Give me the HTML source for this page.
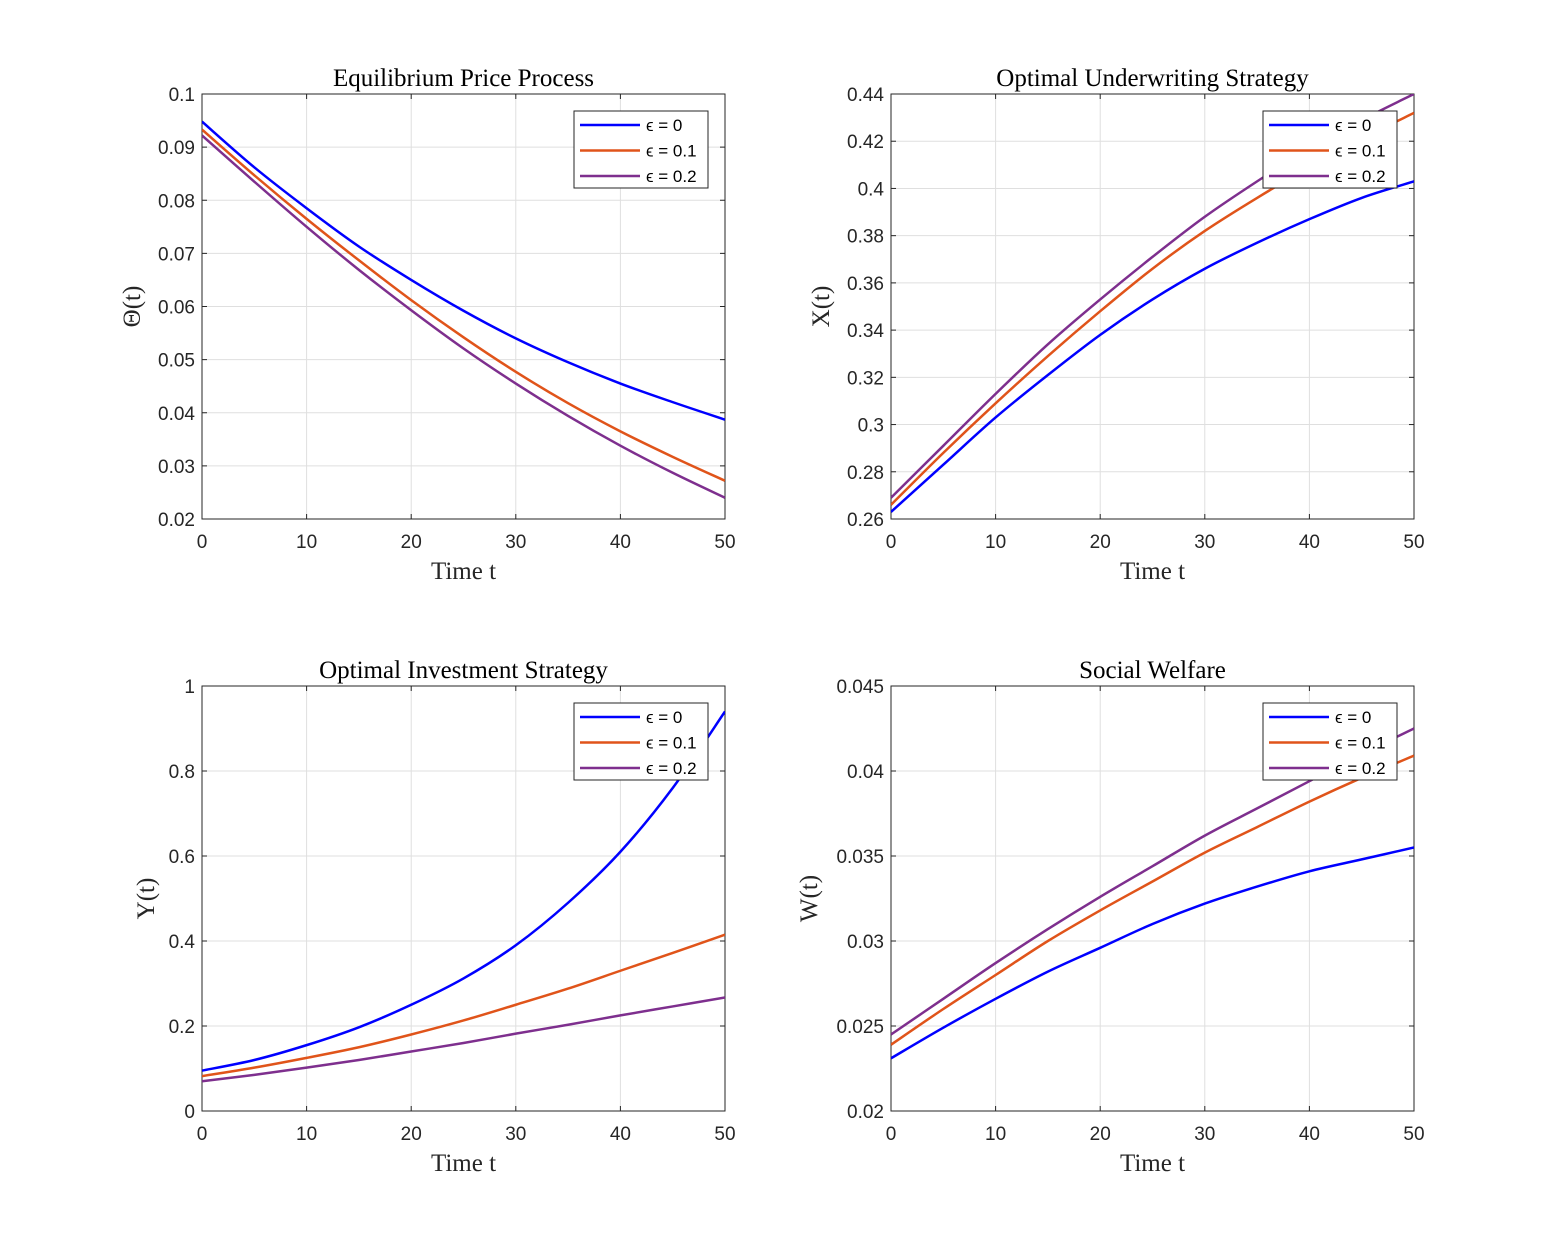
<!DOCTYPE html>
<html><head><meta charset="utf-8"><style>
html,body{margin:0;padding:0;background:#fff;}
</style></head><body>
<svg id="fig" width="1563" height="1250" xmlns="http://www.w3.org/2000/svg"></svg>
<script>
const times=[0,5,10,15,20,25,30,35,40,45,50];
const seriesLabels=["\u03f5 = 0","\u03f5 = 0.1","\u03f5 = 0.2"];
const priceE0=[0.0948,0.0862,0.0785,0.0713,0.065,0.0592,0.054,0.0495,0.0455,0.042,0.0387];
const priceE1=[0.0933,0.0847,0.0765,0.0687,0.0612,0.0542,0.0477,0.0418,0.0365,0.0317,0.0272];
const priceE2=[0.0922,0.0835,0.075,0.0669,0.0593,0.0521,0.0455,0.0394,0.0338,0.0287,0.024];
const underE0=[0.263,0.283,0.303,0.321,0.338,0.353,0.366,0.377,0.387,0.396,0.403];
const underE1=[0.266,0.288,0.309,0.329,0.348,0.366,0.382,0.396,0.409,0.421,0.432];
const underE2=[0.269,0.291,0.313,0.334,0.353,0.371,0.388,0.403,0.417,0.429,0.440];
const investE0=[0.095,0.12,0.155,0.197,0.25,0.312,0.39,0.49,0.61,0.76,0.94];
const investE1=[0.082,0.102,0.125,0.15,0.18,0.213,0.25,0.288,0.33,0.372,0.415];
const investE2=[0.07,0.085,0.102,0.12,0.14,0.16,0.182,0.203,0.225,0.246,0.267];
const welfE0=[0.0231,0.0249,0.0266,0.0282,0.0296,0.031,0.0322,0.0332,0.0341,0.0348,0.0355];
const welfE1=[0.0239,0.026,0.028,0.03,0.0318,0.0335,0.0352,0.0367,0.0382,0.0396,0.0409];
const welfE2=[0.0245,0.0266,0.0287,0.0307,0.0326,0.0344,0.0362,0.0378,0.0394,0.041,0.0425];
const xTicks=[0,10,20,30,40,50];
const priceTicks=[0.02,0.03,0.04,0.05,0.06,0.07,0.08,0.09,0.1];
const underTicks=[0.26,0.28,0.3,0.32,0.34,0.36,0.38,0.4,0.42,0.44];
const investTicks=[0,0.2,0.4,0.6,0.8,1];
const welfTicks=[0.02,0.025,0.03,0.035,0.04,0.045];
const colors=["#0000ff","#e0541a","#7e2f8e"];
const NS="http://www.w3.org/2000/svg";
const svg=document.getElementById('fig');
const SANS='font-family:"Liberation Sans",sans-serif';
const SERIF='font-family:"Liberation Serif",serif';
function mk(tag,attrs,parent){const e=document.createElementNS(NS,tag);for(const k in attrs)e.setAttribute(k,attrs[k]);(parent||svg).appendChild(e);return e;}
function panel(o){
  const g=mk('g',{});
  
  
  const L=o.x,T=o.y,W=523,H=425;
  const xs=t=>L+(t-0)/50*W;
  const ys=v=>T+H-(v-o.ymin)/(o.ymax-o.ymin)*H;
  mk('rect',{x:L,y:T,width:W,height:H,fill:'#fff'},g);
  xTicks.forEach(t=>{const x=xs(t);
    const gl=mk('line',{x1:x,y1:T,x2:x,y2:T+H,stroke:'#dfdfdf','stroke-width':1},g);
    
    mk('line',{x1:x,y1:T+H,x2:x,y2:T+H-5,stroke:'#262626'},g);
    mk('line',{x1:x,y1:T,x2:x,y2:T+5,stroke:'#262626'},g);
    const tx=mk('text',{x:x,y:T+H+29,'text-anchor':'middle','font-size':19,fill:'#262626',style:SANS},g);tx.textContent=t;
    
  });
  o.ticks.forEach(v=>{const y=ys(v);
    const gl=mk('line',{x1:L,y1:y,x2:L+W,y2:y,stroke:'#dfdfdf','stroke-width':1},g);
    
    mk('line',{x1:L,y1:y,x2:L+5,y2:y,stroke:'#262626'},g);
    mk('line',{x1:L+W,y1:y,x2:L+W-5,y2:y,stroke:'#262626'},g);
    const tx=mk('text',{x:L-7,y:y+7,'text-anchor':'end','font-size':19,fill:'#262626',style:SANS},g);tx.textContent=String(v);
    
  });
  mk('rect',{x:L,y:T,width:W,height:H,fill:'none',stroke:'#262626','stroke-width':1},g);
  const cp=mk('clipPath',{id:'c'+o.name},g);mk('rect',{x:L,y:T,width:W,height:H},cp);
  o.series.forEach((s,i)=>{
    const p=s.map((v,j)=>[xs(times[j]),ys(v)]);
    let d='M'+p[0][0]+','+p[0][1];
    for(let j=0;j<p.length-1;j++){
      const p0=p[Math.max(0,j-1)],p1=p[j],p2=p[j+1],p3=p[Math.min(p.length-1,j+2)];
      d+=' C'+(p1[0]+(p2[0]-p0[0])/6)+','+(p1[1]+(p2[1]-p0[1])/6)+' '+(p2[0]-(p3[0]-p1[0])/6)+','+(p2[1]-(p3[1]-p1[1])/6)+' '+p2[0]+','+p2[1];
    }
    const path=mk('path',{d:d,fill:'none',stroke:colors[i],'stroke-width':2.5,'clip-path':'url(#c'+o.name+')'},g);
    
    
  });
  const ti=mk('text',{x:L+W/2,y:T-8,'text-anchor':'middle','font-size':25,fill:'#000',style:SERIF},g);
  ti.textContent=o.title;
  const xl=mk('text',{x:L+W/2,y:T+H+60,'text-anchor':'middle','font-size':25,fill:'#262626',style:SERIF},g);
  xl.textContent='Time t';
  const yl=mk('text',{x:0,y:0,'text-anchor':'middle','font-size':25,fill:'#262626',style:SERIF,transform:'translate('+(L-o.ylOff)+','+(T+H/2)+') rotate(-90)'},g);
  yl.textContent=o.ylabel;
  const lx=L+o.legX,ly=T+17;
  const lg=mk('g',{},g);
  mk('rect',{x:lx,y:ly,width:134,height:77,fill:'#fff',stroke:'#262626'},lg);
  seriesLabels.forEach((lab,i)=>{
    const yy=ly+14+i*25.5;
    const e=mk('g',{},lg);
    mk('line',{x1:lx+6,y1:yy,x2:lx+66,y2:yy,stroke:colors[i],'stroke-width':2.5},e);
    const t=mk('text',{x:lx+72,y:yy+6,'font-size':17,fill:'#000',style:SANS},e);t.textContent=lab;
  });
}
panel({name:'price-panel',x:202,y:94,ymin:0.02,ymax:0.1,ticks:priceTicks,series:[priceE0,priceE1,priceE2],title:'Equilibrium Price Process',ylabel:'\u0398(t)',ylOff:62,legX:372});
panel({name:'underwriting-panel',x:891,y:94,ymin:0.26,ymax:0.44,ticks:underTicks,series:[underE0,underE1,underE2],title:'Optimal Underwriting Strategy',ylabel:'X(t)',ylOff:62,legX:372});
panel({name:'investment-panel',x:202,y:686,ymin:0,ymax:1,ticks:investTicks,series:[investE0,investE1,investE2],title:'Optimal Investment Strategy',ylabel:'Y(t)',ylOff:48,legX:372});
panel({name:'welfare-panel',x:891,y:686,ymin:0.02,ymax:0.045,ticks:welfTicks,series:[welfE0,welfE1,welfE2],title:'Social Welfare',ylabel:'W(t)',ylOff:74,legX:372});
</script>
</body></html>
